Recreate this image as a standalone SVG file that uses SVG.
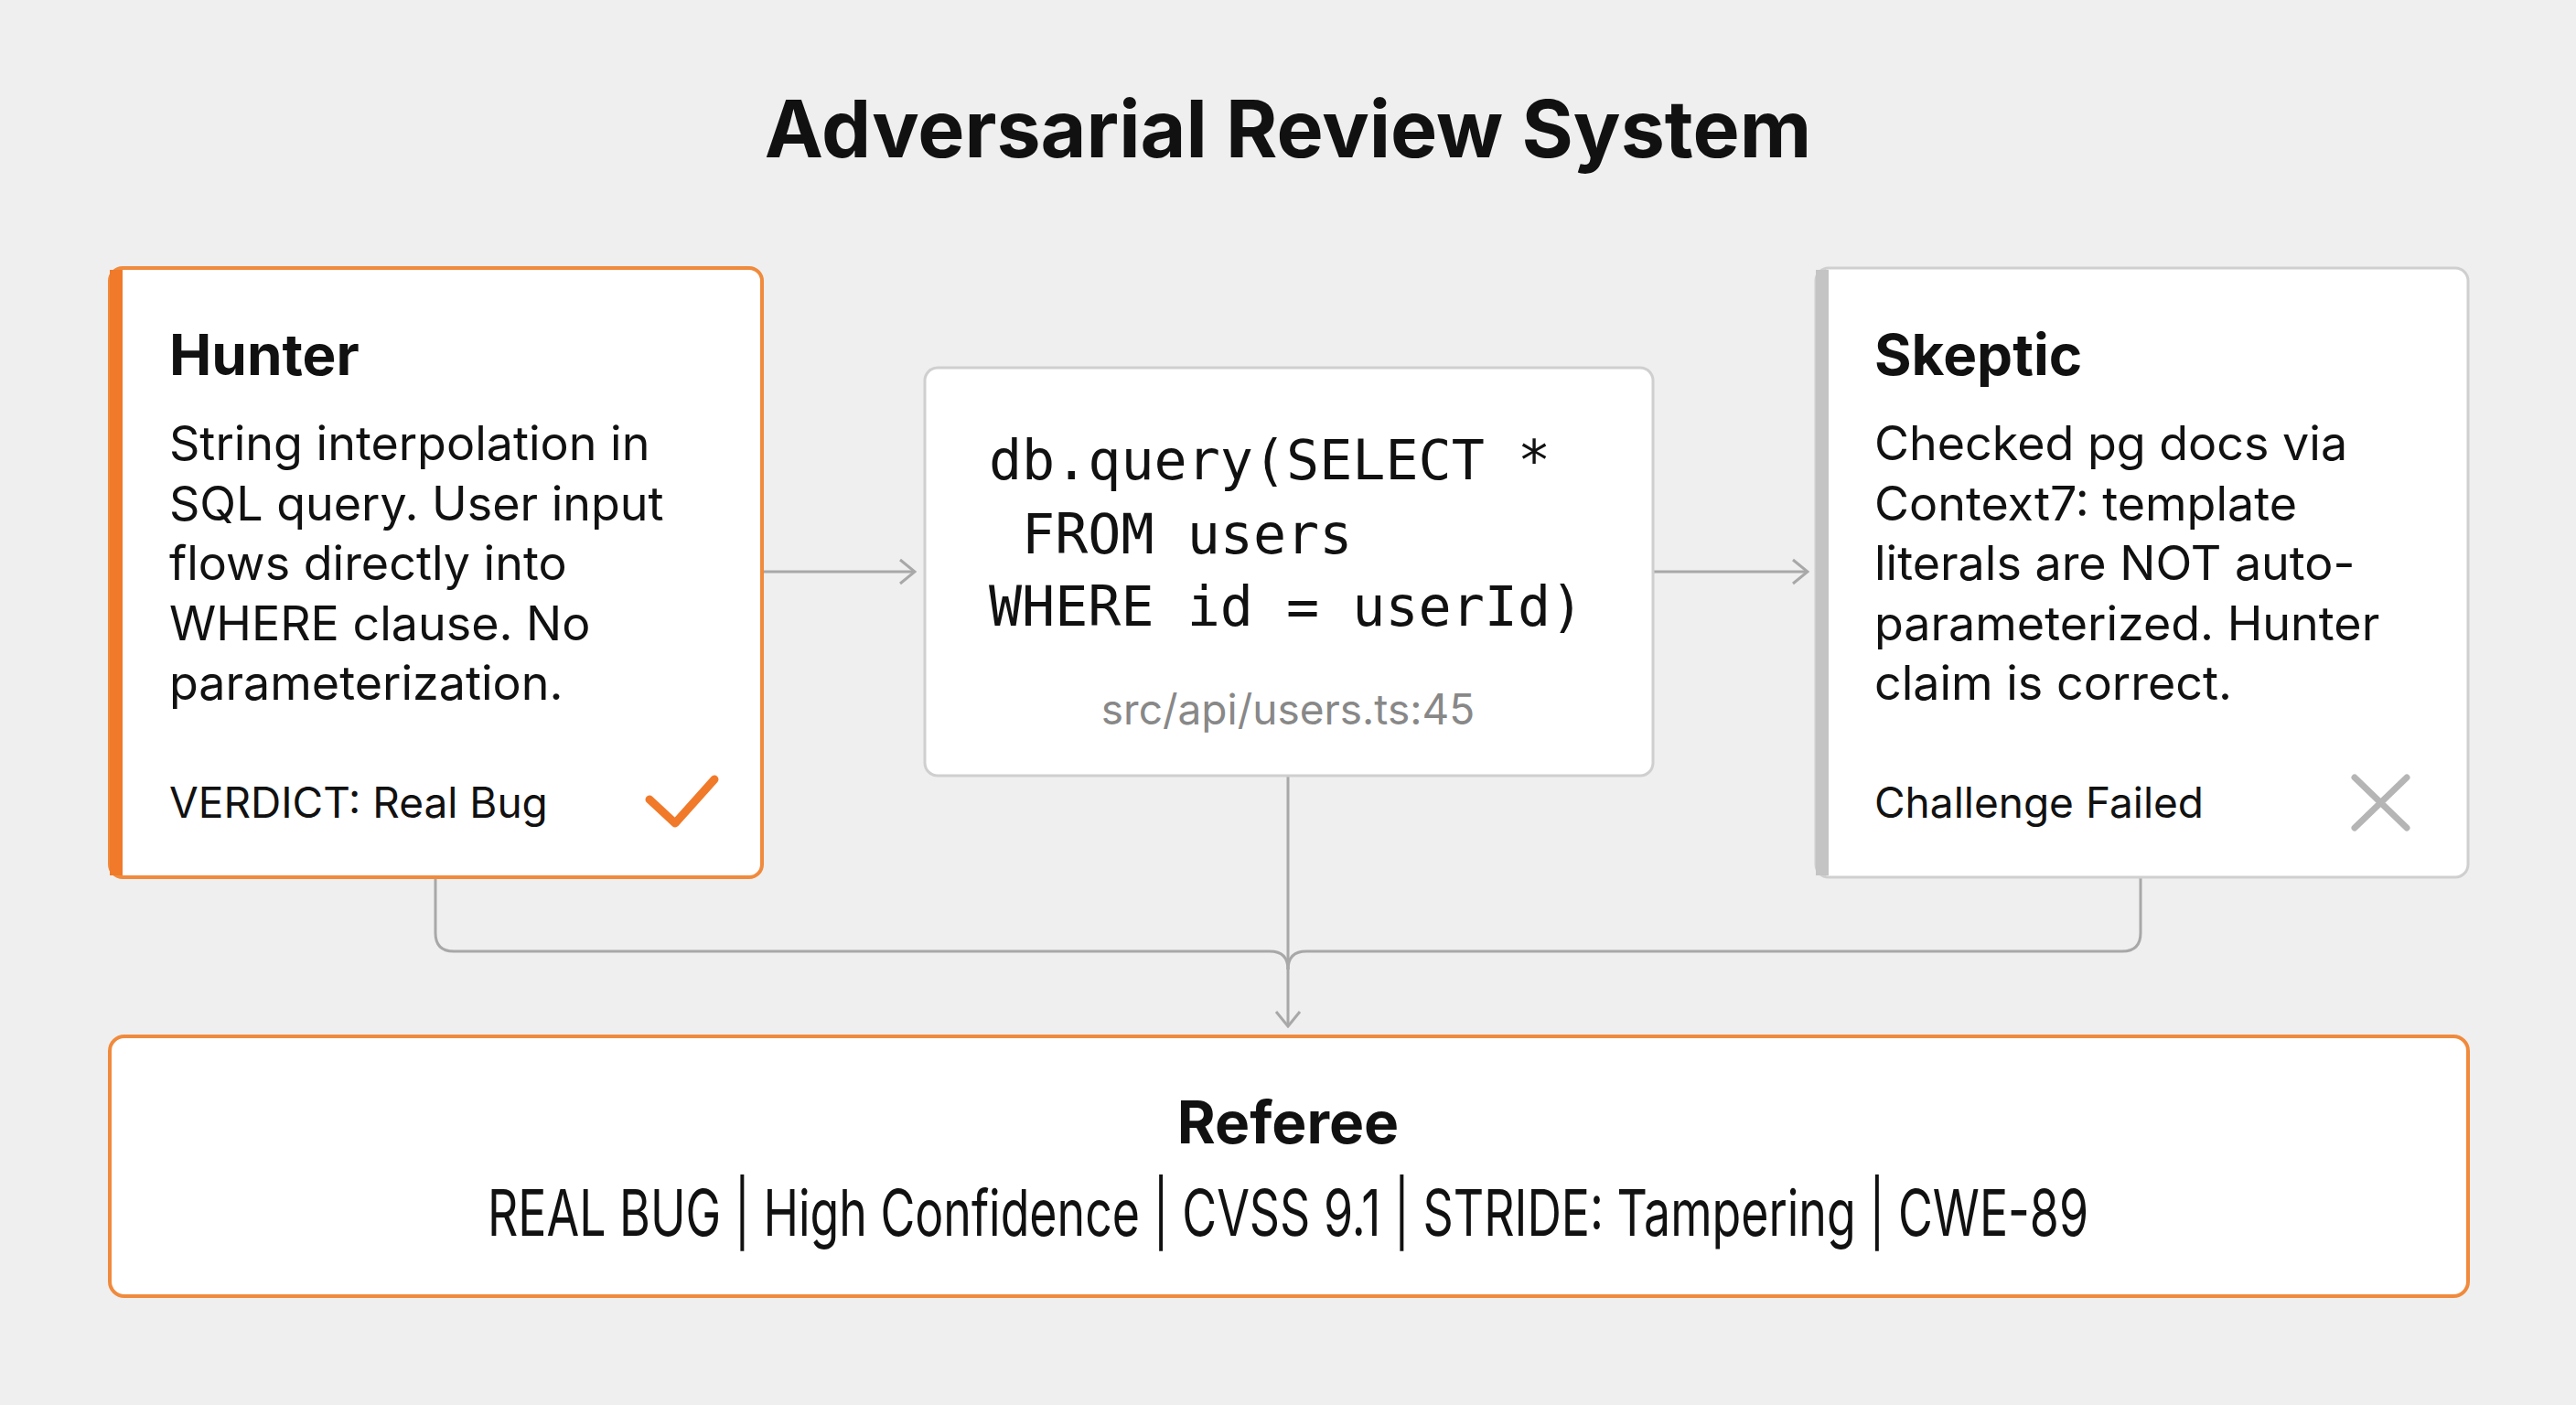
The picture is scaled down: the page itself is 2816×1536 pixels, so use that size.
<svg xmlns="http://www.w3.org/2000/svg" width="2816" height="1536" viewBox="0 0 2816 1536">
<style>
.t{font-family:Inter,"Liberation Sans",sans-serif;fill:#111}
.h{font-weight:700;font-size:62px}
.b{font-size:52px}
.s{font-size:46px}
.m{font-family:"DejaVu Sans Mono","Liberation Mono",monospace;font-size:60px;fill:#111}
.card{fill:#fff}
.con{fill:none;stroke:#a8a8a8;stroke-width:3}
</style>
<defs>
<marker id="ar" viewBox="0 0 20 30" refX="18" refY="15" markerWidth="20" markerHeight="30" markerUnits="userSpaceOnUse" orient="auto">
<path d="M2 2 L18 15 L2 28" fill="none" stroke="#a8a8a8" stroke-width="3"/>
</marker>
</defs>
<rect width="2816" height="1536" fill="#efefef"/>
<text class="t" x="1408" y="172" text-anchor="middle" font-size="86" font-weight="700">Adversarial Review System</text>
<g id="connectors">
<path class="con" d="M833 625 H1000" marker-end="url(#ar)"/>
<path class="con" d="M1807 625 H1976" marker-end="url(#ar)"/>
<path class="con" d="M476 959 V1020 Q476 1040 496 1040 H1388 Q1408 1040 1408 1060"/>
<path class="con" d="M2340 959 V1020 Q2340 1040 2320 1040 H1428 Q1408 1040 1408 1060"/>
<path class="con" d="M1408 848 V1122" marker-end="url(#ar)"/>
</g>
<g id="hunter">
<rect class="card" x="120" y="293" width="713" height="666" rx="14" stroke="#f08a3c" stroke-width="4"/>
<rect x="120" y="295" width="14" height="662" fill="#f07a2a"/>
<text class="t h" x="185" y="410">Hunter</text>
<text class="t b" x="185" y="503">String interpolation in</text>
<text class="t b" x="185" y="569">SQL query. User input</text>
<text class="t b" x="185" y="634">flows directly into</text>
<text class="t b" x="185" y="700">WHERE clause. No</text>
<text class="t b" x="185" y="765">parameterization.</text>
<text class="t s" x="185" y="894">VERDICT: Real Bug</text>
<path d="M710 874 L738 900 L781 852" fill="none" stroke="#f07a2a" stroke-width="9" stroke-linecap="round" stroke-linejoin="round"/>
</g>
<g id="code">
<rect class="card" x="1011" y="402" width="796" height="446" rx="14" stroke="#cfcfcf" stroke-width="3"/>
<text class="m" x="1081" y="524" xml:space="preserve">db.query(SELECT *</text>
<text class="m" x="1081" y="605" xml:space="preserve"> FROM users</text>
<text class="m" x="1081" y="684" xml:space="preserve">WHERE id = userId)</text>
<text class="t s" x="1408" y="792" text-anchor="middle" style="fill:#888">src/api/users.ts:45</text>
</g>
<g id="skeptic">
<rect class="card" x="1985" y="293" width="713" height="666" rx="14" stroke="#cfcfcf" stroke-width="3"/>
<rect x="1985" y="295" width="14" height="662" fill="#c4c4c4"/>
<text class="t h" x="2049" y="410">Skeptic</text>
<text class="t b" x="2049" y="503">Checked pg docs via</text>
<text class="t b" x="2049" y="569">Context7: template</text>
<text class="t b" x="2049" y="634">literals are NOT auto-</text>
<text class="t b" x="2049" y="700">parameterized. Hunter</text>
<text class="t b" x="2049" y="765">claim is correct.</text>
<text class="t s" x="2049" y="894">Challenge Failed</text>
<path d="M2574 850 L2631 905 M2631 850 L2574 905" stroke="#b5b5b5" stroke-width="7" stroke-linecap="round"/>
</g>
<g id="referee">
<rect class="card" x="120" y="1133" width="2578" height="284" rx="16" stroke="#f08a3c" stroke-width="4"/>
<text class="t" x="1408" y="1250" text-anchor="middle" font-size="64" font-weight="700">Referee</text>
<text class="t" x="533" y="1351" font-size="70" textLength="1750" lengthAdjust="spacingAndGlyphs">REAL BUG | High Confidence | CVSS 9.1 | STRIDE: Tampering | CWE-89</text>
</g>
</svg>
